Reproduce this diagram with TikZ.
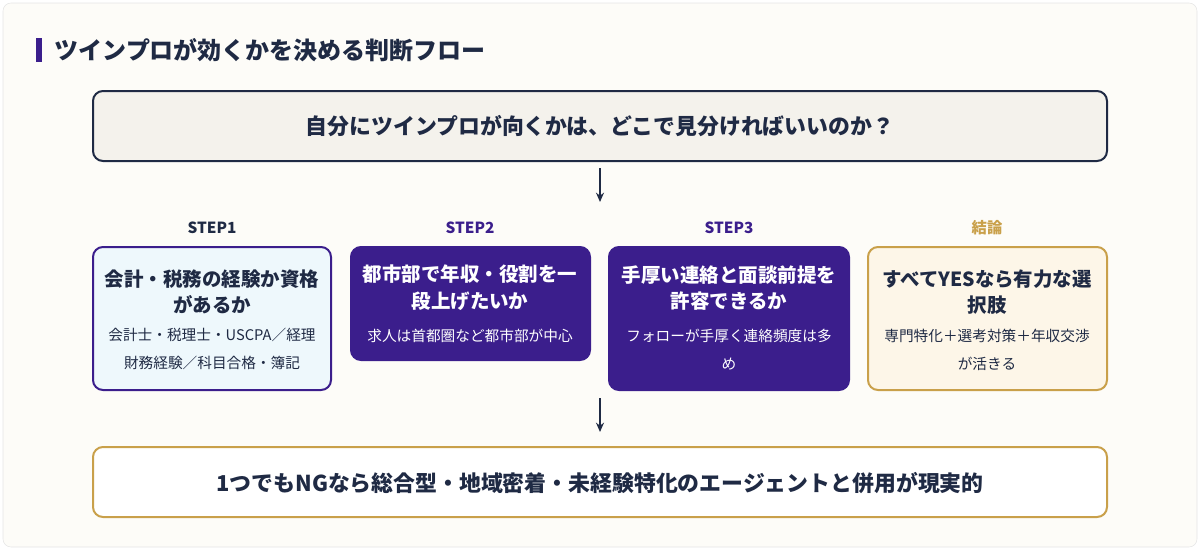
\documentclass[tikz,border=0pt]{standalone}
\usepackage{fontspec}
\setmainfont{Noto Sans CJK JP}
\usetikzlibrary{arrows.meta}
\definecolor{navy}{HTML}{1F2A44}
\definecolor{purp}{HTML}{3B1E8C}
\definecolor{gold}{HTML}{C9A04A}
\definecolor{cream}{HTML}{F4F2EC}
\definecolor{lblue}{HTML}{EEF8FC}
\definecolor{lgold}{HTML}{FDF6E8}
\definecolor{page}{HTML}{FDFCF8}
\begin{document}
\begin{tikzpicture}[x=0.75pt,y=-0.75pt,
  box/.style={rounded corners=7.5pt,line width=1.5pt},
  ttl/.style={font=\fontsize{14.6}{20}\selectfont\bfseries,align=center},
  sub/.style={font=\fontsize{11}{21}\selectfont,align=center},
  steplbl/.style={font=\fontsize{11.5}{12}\selectfont\bfseries},
  arr/.style={-{Stealth[length=7pt,width=6pt]},line width=1.2pt,navy}]
\useasboundingbox (0,0) rectangle (1200,550);
\draw[fill=page,draw=black!10,rounded corners=6pt] (3,3) rectangle (1197,547);
\fill[purp] (36,38) rectangle (42,62);
\node[anchor=west,navy,font=\fontsize{18}{20}\selectfont\bfseries] (title) at (50,50) {ツインプロが効くかを決める判断フロー};
\draw[box,draw=navy,fill=cream] (93,91) rectangle (1107,161);
\node[navy,font=\fontsize{16.4}{20}\selectfont\bfseries] (q) at (600,126) {自分にツインプロが向くかは、どこで見分ければいいのか？};
\coordinate (a1) at (600,168); \coordinate (a2) at (600,202);
\draw[arr] (a1) -- (a2);
\node[steplbl,navy] (s1) at (212,228) {STEP1};
\node[steplbl,purp] (s2) at (470,228) {STEP2};
\node[steplbl,purp] (s3) at (729,228) {STEP3};
\node[steplbl,gold] (s4) at (987,228) {結論};
\draw[box,draw=purp,fill=lblue] (93,247) rectangle (331,390);
\node[ttl,navy] (t1) at (212,292) {会計・税務の経験か資格\\があるか};
\node[sub,navy] (u1) at (212,349) {会計士・税理士・USCPA／経理\\財務経験／科目合格・簿記};
\draw[box,draw=purp,fill=purp] (351,247) rectangle (590,360);
\node[ttl,white] (t2) at (470,288) {都市部で年収・役割を一\\段上げたいか};
\node[sub,white] (u2) at (470,336) {求人は首都圏など都市部が中心};
\draw[box,draw=purp,fill=purp] (609,247) rectangle (849,390);
\node[ttl,white] (t3) at (729,288) {手厚い連絡と面談前提を\\許容できるか};
\node[sub,white] (u3) at (729,350) {フォローが手厚く連絡頻度は多\\め};
\draw[box,draw=gold,fill=lgold] (868,247) rectangle (1107,390);
\node[ttl,navy] (t4) at (987,292) {すべてYESなら有力な選\\択肢};
\node[sub,navy] (u4) at (987,350) {専門特化＋選考対策＋年収交渉\\が活きる};
\coordinate (b1) at (600,398); \coordinate (b2) at (600,432);
\draw[arr] (b1) -- (b2);
\draw[box,draw=gold,fill=white] (93,447) rectangle (1107,517);
\node[navy,font=\fontsize{16.4}{20}\selectfont\bfseries] (c) at (600,483) {1つでもNGなら総合型・地域密着・未経験特化のエージェントと併用が現実的};
\end{tikzpicture}
\end{document}
